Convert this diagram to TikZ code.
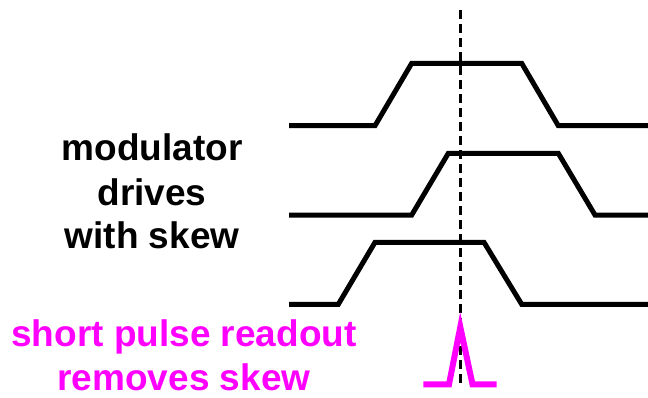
\documentclass[tikz,border=0pt]{standalone}
\usepackage{fontspec}
\setmainfont{Liberation Sans}
\definecolor{mag}{RGB}{255,0,255}
\begin{document}
\begin{tikzpicture}[x=1pt,y=-1pt,
  wave/.style={line width=5pt,black,line join=miter},
  pulse/.style={line width=6pt,mag,line join=miter},
  guide/.style={line width=2.5pt,black,dash pattern=on 9pt off 5pt},
  lbl/.style={font=\fontsize{37}{44}\selectfont\bfseries,inner sep=0pt,anchor=base}]
\useasboundingbox (0,0) rectangle (648,397);
% dashed reference line
\coordinate (dtop) at (460.3,10);
\coordinate (dbot) at (460.3,387);
\draw[guide] (dtop) -- (dbot);
% waveforms
\draw[wave] (289,125.7) -- (375,125.7) -- (411.7,63.3) -- (521.7,63.3) -- (558.3,125.7) -- (648,125.7);
\draw[wave] (289,215) -- (411.7,215) -- (448.3,153.3) -- (558.3,153.3) -- (595,215) -- (648,215);
\draw[wave] (289,304.3) -- (338.3,304.3) -- (375,242.3) -- (484,242.3) -- (521.7,304.3) -- (648,304.3);
% short pulse
\draw[pulse] (423.3,384.3) -- (449,384.3) -- (460.3,327) -- (472.5,384.3) -- (496.7,384.3);
% labels
\node[lbl] (l1) at (152,160.7) {modulator};
\node[lbl] (l2) at (152,205) {drives};
\node[lbl] (l3) at (152,248.3) {with skew};
\node[lbl,text=mag] (m1) at (184,346.7) {short pulse readout};
\node[lbl,text=mag] (m2) at (184,390) {removes skew};
\end{tikzpicture}
\end{document}
